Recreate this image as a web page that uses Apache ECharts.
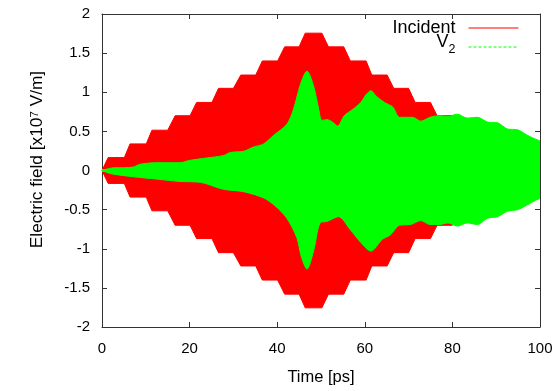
<!DOCTYPE html>
<html>
<head>
<meta charset="utf-8">
<script src="https://cdn.jsdelivr.net/npm/echarts@6/dist/echarts.min.js"></script>
<style>
  html, body { margin: 0; padding: 0; background: #fff; }
  #chart { width: 560px; height: 391px; }
</style>
</head>
<body>
<div id="chart"></div>
<script>
// envelope of the incident pulse (upper half, lower half is its mirror)
const incidentUpper = [
  [0, 0], [1.4, 0.165], [5.1, 0.165], [6.4, 0.34], [10.1, 0.34], [11.4, 0.515],
  [15.0, 0.515], [16.7, 0.70], [20.1, 0.70], [21.6, 0.87], [25.1, 0.87], [26.6, 1.05],
  [30.0, 1.05], [31.7, 1.22], [35.1, 1.22], [36.6, 1.40], [40.1, 1.40], [41.7, 1.58],
  [45.0, 1.58], [46.4, 1.755], [50.2, 1.755], [51.7, 1.58], [55.2, 1.58], [56.7, 1.40],
  [60.3, 1.40], [61.6, 1.22], [65.1, 1.22], [66.6, 1.05], [70.0, 1.05], [71.5, 0.87],
  [75.0, 0.87], [76.5, 0.70], [80.0, 0.70], [81.5, 0.515], [85.0, 0.515], [86.5, 0.34],
  [90.0, 0.34], [91.5, 0.165], [95.0, 0.165], [96.5, 0], [100, 0]
];
const incidentLower = incidentUpper.map(p => [p[0], -p[1]]);

// envelope of V2
const v2Upper = [
  [0, 0], [2.6, 0.034], [4.9, 0.035], [7.2, 0.045], [8.7, 0.08], [12.5, 0.10],
  [15.0, 0.10], [17.8, 0.10], [20.1, 0.13], [23.9, 0.16], [27.7, 0.19], [29.3, 0.23],
  [32.3, 0.245], [34.6, 0.30], [36.9, 0.34], [39.2, 0.45], [42.2, 0.59], [43.7, 0.78],
  [45.3, 1.10], [46.8, 1.27], [48.3, 1.08], [49.5, 0.78], [50.2, 0.64], [51.4, 0.65],
  [52.6, 0.62], [53.8, 0.57], [55.3, 0.70], [57.2, 0.78], [59.1, 0.87], [60.3, 0.97],
  [61.4, 1.02], [62.6, 0.95], [64.5, 0.87], [66.4, 0.81], [67.9, 0.68], [69.4, 0.68],
  [70.9, 0.68], [72.8, 0.63], [74.9, 0.68], [77.1, 0.70], [79.0, 0.69], [81.1, 0.72],
  [83.4, 0.67], [85.7, 0.68], [88.0, 0.62], [90.3, 0.61], [92.6, 0.53], [94.9, 0.52],
  [97.1, 0.45], [99.0, 0.40], [100, 0.38]
];
const v2Lower = [
  [0, 0], [2.0, -0.04], [7.2, -0.08], [12.5, -0.11], [17.8, -0.14], [22.4, -0.15],
  [27.7, -0.24], [32.3, -0.27], [36.9, -0.35], [39.5, -0.45], [42.2, -0.61], [44.5, -0.86],
  [45.5, -1.10], [46.8, -1.26], [48.3, -1.03], [49.8, -0.67], [51.4, -0.65], [54.0, -0.59],
  [56.6, -0.75], [59.1, -0.92], [61.4, -1.03], [64.0, -0.88], [65.9, -0.82], [67.9, -0.70],
  [70.5, -0.69], [72.8, -0.64], [74.9, -0.69], [77.1, -0.69], [79.0, -0.67], [81.1, -0.71],
  [83.4, -0.67], [85.7, -0.69], [88.0, -0.61], [90.3, -0.59], [92.6, -0.52], [94.9, -0.50],
  [97.1, -0.44], [99.0, -0.38], [100, -0.36]
];

const FONT = "Liberation Sans";
const RED = "#ff0000";
const GREEN = "#00ff00";

// each half is filled towards a baseline a bit past zero so the two halves overlap
const band = (name, data, color, smooth, z, origin) => ({
  name: name,
  type: "line",
  data: data,
  smooth: smooth,
  symbol: "none",
  showSymbol: false,
  lineStyle: { color: color, width: 1 },
  itemStyle: { color: color },
  areaStyle: { color: color, opacity: 1, origin: origin },
  emphasis: { disabled: true },
  z: z,
});

const axisCommon = {
  type: "value",
  axisLine: { show: true, onZero: false, lineStyle: { color: "#333", width: 1 } },
  axisTick: { show: true, inside: true, length: 5, lineStyle: { color: "#333" } },
  splitLine: { show: false },
};

const hiddenDot = { color: "rgba(0,0,0,0)", borderWidth: 0 };

const option = {
  animation: false,
  backgroundColor: "#fff",
  grid: { left: 102, right: 20, top: 14, bottom: 61 },
  legend: [
    {
      data: [{ name: "Incident", lineStyle: { color: RED, width: 1, type: "solid" }, itemStyle: hiddenDot }],
      orient: "vertical",
      right: 36,
      top: 14,
      align: "right",
      itemWidth: 50,
      itemHeight: 14,
      selectedMode: false,
      textStyle: { fontFamily: FONT, fontSize: 18, color: "#000", lineHeight: 18, padding: [0, 8, 0, 0] },
    },
    {
      data: [{ name: "V2", lineStyle: { color: GREEN, width: 1, type: [3, 2] }, itemStyle: hiddenDot }],
      orient: "vertical",
      right: 36,
      top: 28,
      align: "right",
      itemWidth: 50,
      itemHeight: 14,
      selectedMode: false,
      formatter: () => "{v|V}{s|2}",
      textStyle: {
        fontFamily: FONT,
        color: "#000",
        padding: [0, 8, 0, 0],
        rich: {
          v: { fontFamily: FONT, fontSize: 18, lineHeight: 18, padding: [0, 0, 10, 0] },
          s: { fontFamily: FONT, fontSize: 12.5, lineHeight: 12, padding: [6, 0, 0, 0] },
        },
      },
    },
  ],
  xAxis: [
    Object.assign({}, axisCommon, {
      min: 0, max: 100, interval: 20,
      name: "Time [ps]",
      nameLocation: "middle",
      nameGap: 42,
      nameTextStyle: { fontFamily: FONT, fontSize: 16.5, color: "#000" },
      axisLabel: { fontFamily: FONT, fontSize: 15, color: "#000", margin: 14 },
    }),
    Object.assign({}, axisCommon, {
      position: "top",
      min: 0, max: 100, interval: 20,
      axisLabel: { show: false },
    }),
  ],
  yAxis: [
    Object.assign({}, axisCommon, {
      min: -2, max: 2, interval: 0.5,
      name: "{t|Electric field [x10}{sup|7}{t| V/m]}",
      nameLocation: "middle",
      nameGap: 53,
      nameTextStyle: {
        padding: [0, 0, 0, 22],
        rich: {
          t: { fontFamily: FONT, fontSize: 17.3, color: "#000", lineHeight: 20, verticalAlign: "top" },
          sup: { fontFamily: FONT, fontSize: 11.5, color: "#000", lineHeight: 11, verticalAlign: "top" },
        },
      },
      axisLabel: { fontFamily: FONT, fontSize: 15, color: "#000", margin: 12 },
    }),
    Object.assign({}, axisCommon, {
      position: "right",
      min: -2, max: 2, interval: 0.5,
      axisLabel: { show: false },
    }),
  ],
  series: [
    band("Incident", incidentUpper, RED, false, 1, -0.02),
    band("Incident", incidentLower, RED, false, 1, 0.02),
    band("V2", v2Upper, GREEN, 0.3, 2, -0.02),
    band("V2", v2Lower, GREEN, 0.3, 2, 0.02),
  ],
};

const chart = echarts.init(document.getElementById("chart"));
chart.setOption(option);
</script>
</body>
</html>
